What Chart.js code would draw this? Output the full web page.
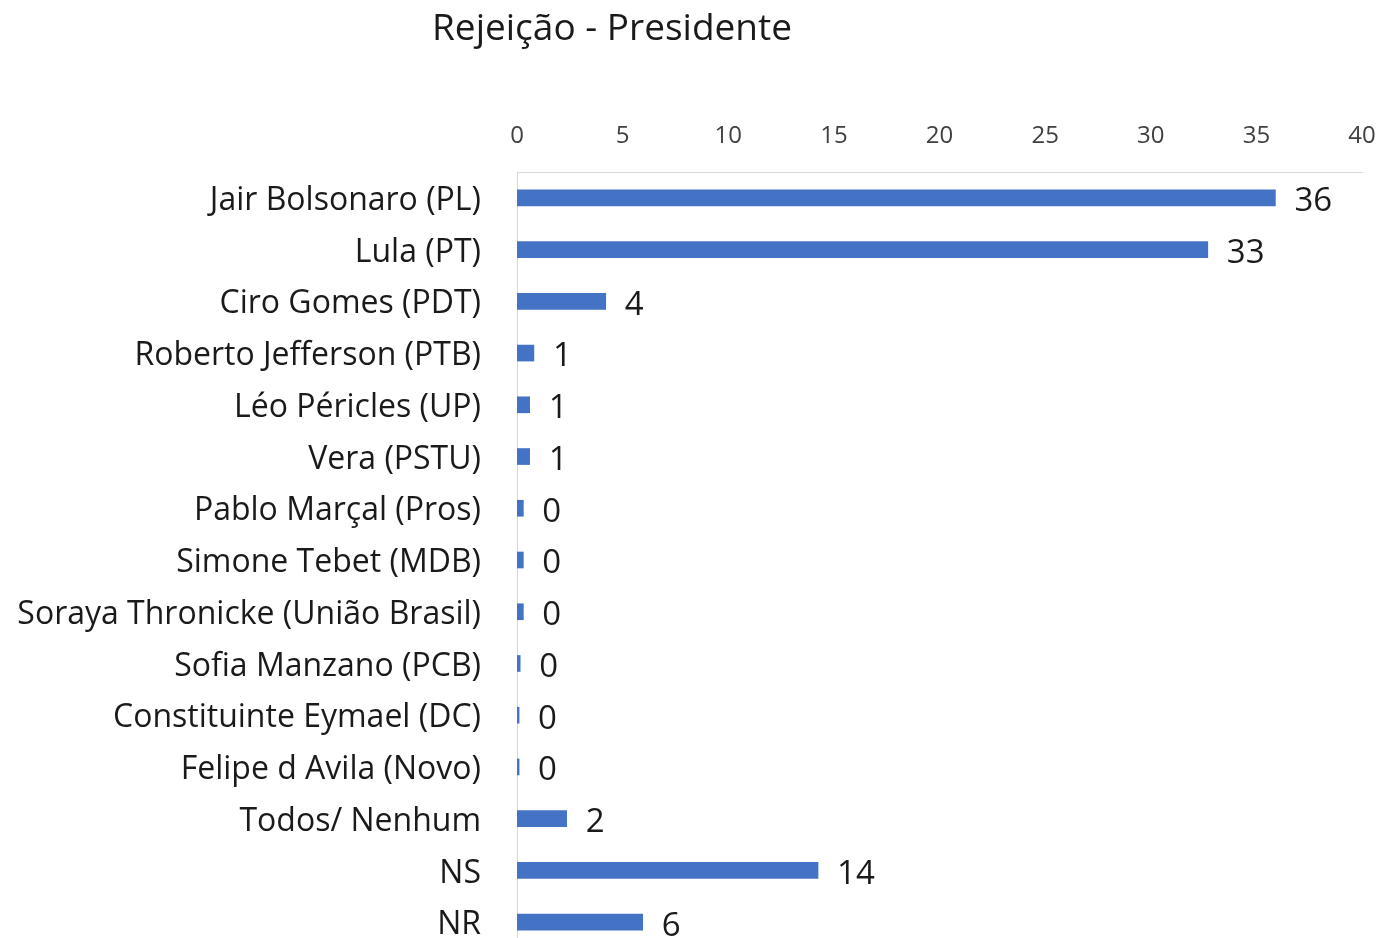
<!DOCTYPE html>
<html>
<head>
<meta charset="utf-8">
<title>Rejeição - Presidente</title>
<script src="https://cdn.jsdelivr.net/npm/chart.js@4.4.1/dist/chart.umd.min.js"></script>
<style>
    html, body { margin: 0; padding: 0; background: #fff; overflow: hidden; }
    canvas { display: block; }
</style>
</head>
<body>
<canvas id="chart" width="1384" height="960"></canvas>
<script>
// data
const candidates = [
    "Jair Bolsonaro (PL)",
    "Lula (PT)",
    "Ciro Gomes (PDT)",
    "Roberto Jefferson (PTB)",
    "Léo Péricles (UP)",
    "Vera (PSTU)",
    "Pablo Marçal (Pros)",
    "Simone Tebet (MDB)",
    "Soraya Thronicke (União Brasil)",
    "Sofia Manzano (PCB)",
    "Constituinte Eymael (DC)",
    "Felipe d Avila (Novo)",
    "Todos/ Nenhum",
    "NS",
    "NR"
];
const rejection = [35.9, 32.7, 4.2, 0.8, 0.6, 0.6, 0.3, 0.3, 0.3, 0.15, 0.1, 0.1, 2.35, 14.25, 5.95];
const xTicks = [0, 5, 10, 15, 20, 25, 30, 35, 40];
const chartTitle = "Rejeição - Presidente";

const FONT = '"Open Sans", "Noto Sans", sans-serif';

//title + value labels-----------
const extras = {
    id: "extras",
    afterDraw(chart) {
        const ctx = chart.ctx;
        ctx.save();
        ctx.font = `37px ${FONT}`;
        ctx.fillStyle = "#1a1a1a";
        ctx.textAlign = "center";
        ctx.textBaseline = "alphabetic";
        ctx.fillText(chartTitle, 612, 40);
        ctx.restore();
    },
    afterDatasetsDraw(chart) {
        const ctx = chart.ctx;
        const meta = chart.getDatasetMeta(0);
        ctx.save();
        ctx.font = `33px ${FONT}`;
        ctx.fillStyle = "#1a1a1a";
        ctx.textAlign = "left";
        ctx.textBaseline = "middle";
        meta.data.forEach((bar, i) => {
            ctx.fillText(String(Math.round(rejection[i])), bar.x + 19, bar.y + 4);
        });
        ctx.restore();
    },
};

const ctx = document.getElementById("chart").getContext("2d");
new Chart(ctx, {
    type: "bar",
    data: {
        labels: candidates,
        datasets: [
            {
                label: "Rejeição",
                data: rejection,
                backgroundColor: "#4472C4",
                borderWidth: 0,
                barThickness: 16,
            },
        ],
    },
    options: {
        indexAxis: "y",
        responsive: false,
        animation: false,
        layout: { padding: { top: 112, right: 22, bottom: 12, left: 0 } },
        plugins: {
            legend: { display: false },
            tooltip: { enabled: false },
            title: { display: false },
        },
        scales: {
            x: {
                position: "top",
                min: 0,
                max: 40,
                afterBuildTicks: (scale) => {
                    scale.ticks = xTicks.map((v) => ({ value: v }));
                },
                afterFit: (scale) => {
                    scale.height = 60;
                    // tick padding should not eat into the plot width
                    scale.paddingLeft = 0;
                    scale.paddingRight = 0;
                },
                grid: { display: false, drawTicks: false },
                border: { display: true, color: "#d9d9d9", width: 1 },
                ticks: {
                    padding: 21,
                    color: "#404040",
                    font: { family: FONT, size: 24 },
                },
            },
            y: {
                afterFit: (scale) => {
                    scale.width = 517;
                    scale.paddingTop = 0;
                    scale.paddingBottom = 0;
                },
                grid: { display: false, drawTicks: false },
                border: { display: true, color: "#d9d9d9", width: 1 },
                ticks: {
                    padding: 36,
                    labelOffset: 3,
                    color: "#1a1a1a",
                    font: { family: FONT, size: 32 },
                },
            },
        },
    },
    plugins: [extras],
});
</script>
</body>
</html>
